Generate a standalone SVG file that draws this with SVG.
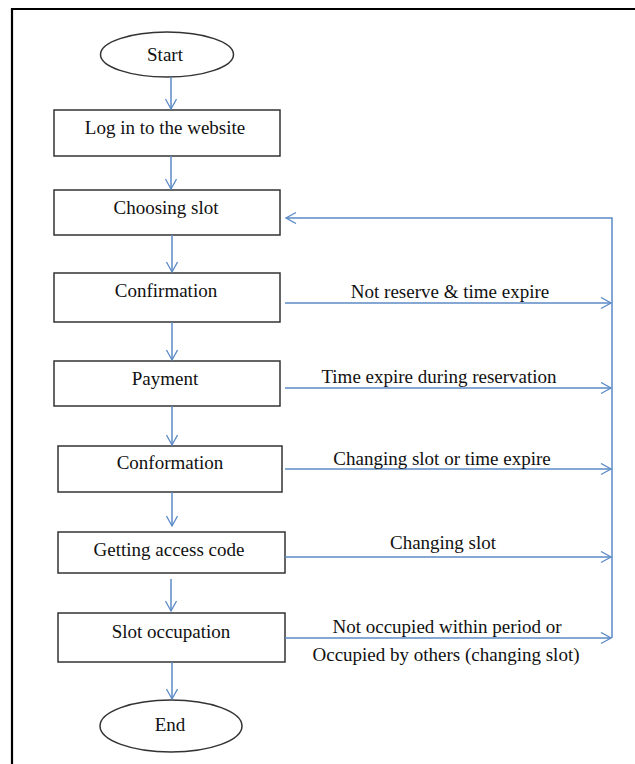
<svg xmlns="http://www.w3.org/2000/svg" width="635" height="764" viewBox="0 0 635 764">
<defs>
<marker id="arr" markerWidth="14" markerHeight="14" refX="11" refY="6" orient="auto" markerUnits="userSpaceOnUse">
<path d="M1,0.5 L11,6 L1,11.5" fill="none" stroke="#5b8ac6" stroke-width="1.3"/>
</marker>
<style>
.box{fill:#fff;stroke:#333;stroke-width:1.5}
.t{font-family:"Liberation Serif","Times New Roman",serif;font-size:19px;fill:#111;text-anchor:middle}
.c{fill:none;stroke:#5b8ac6;stroke-width:1.5}
</style>
</defs>
<rect x="0" y="0" width="635" height="764" fill="#fff"/>
<path d="M12,764 L12,9 L635,9" fill="none" stroke="#000" stroke-width="2.2"/>
<g id="start"><ellipse class="box" cx="167" cy="54.5" rx="66.5" ry="22.5"/><text class="t" x="165" y="61">Start</text></g>
<g id="login"><rect class="box" x="54" y="110" width="226" height="46"/><text class="t" x="165" y="134">Log in to the website</text></g>
<g id="choosing"><rect class="box" x="54" y="190" width="226" height="45"/><text class="t" x="166" y="214">Choosing slot</text></g>
<g id="confirmation"><rect class="box" x="54" y="273" width="226" height="49"/><text class="t" x="166" y="297">Confirmation</text></g>
<g id="payment"><rect class="box" x="54" y="361" width="226" height="45"/><text class="t" x="165" y="385">Payment</text></g>
<g id="conformation"><rect class="box" x="58" y="446" width="224" height="46"/><text class="t" x="170" y="469">Conformation</text></g>
<g id="access"><rect class="box" x="58" y="532" width="227" height="41"/><text class="t" x="169" y="556">Getting access code</text></g>
<g id="occupation"><rect class="box" x="58" y="613" width="227" height="49"/><text class="t" x="171" y="638">Slot occupation</text></g>
<g id="end"><ellipse class="box" cx="171" cy="726" rx="71" ry="26"/><text class="t" x="170" y="731">End</text></g>
<g id="connectors">
<line class="c" x1="171" y1="77" x2="171" y2="109" marker-end="url(#arr)"/>
<line class="c" x1="171" y1="156" x2="171" y2="189" marker-end="url(#arr)"/>
<line class="c" x1="172" y1="235" x2="172" y2="272" marker-end="url(#arr)"/>
<line class="c" x1="172" y1="322" x2="172" y2="360" marker-end="url(#arr)"/>
<line class="c" x1="172" y1="406" x2="172" y2="445" marker-end="url(#arr)"/>
<line class="c" x1="172" y1="492" x2="172" y2="526" marker-end="url(#arr)"/>
<line class="c" x1="171" y1="579" x2="171" y2="611" marker-end="url(#arr)"/>
<line class="c" x1="172" y1="662" x2="172" y2="699" marker-end="url(#arr)"/>
<path class="c" d="M612,638 L612,218 L286,218" marker-end="url(#arr)"/>
<line class="c" x1="285" y1="303" x2="611" y2="303" marker-end="url(#arr)"/>
<line class="c" x1="285" y1="388" x2="611" y2="388" marker-end="url(#arr)"/>
<line class="c" x1="285" y1="469" x2="611" y2="469" marker-end="url(#arr)"/>
<line class="c" x1="285" y1="557" x2="611" y2="557" marker-end="url(#arr)"/>
<line class="c" x1="285" y1="638" x2="611" y2="638" marker-end="url(#arr)"/>
<text class="t" x="450" y="298">Not reserve &amp; time expire</text>
<text class="t" x="439" y="383">Time expire during reservation</text>
<text class="t" x="442" y="465">Changing slot or time expire</text>
<text class="t" x="443" y="549">Changing slot</text>
<text class="t" x="447" y="633">Not occupied within period or</text>
<text class="t" x="446" y="661">Occupied by others (changing slot)</text>
</g>
</svg>
